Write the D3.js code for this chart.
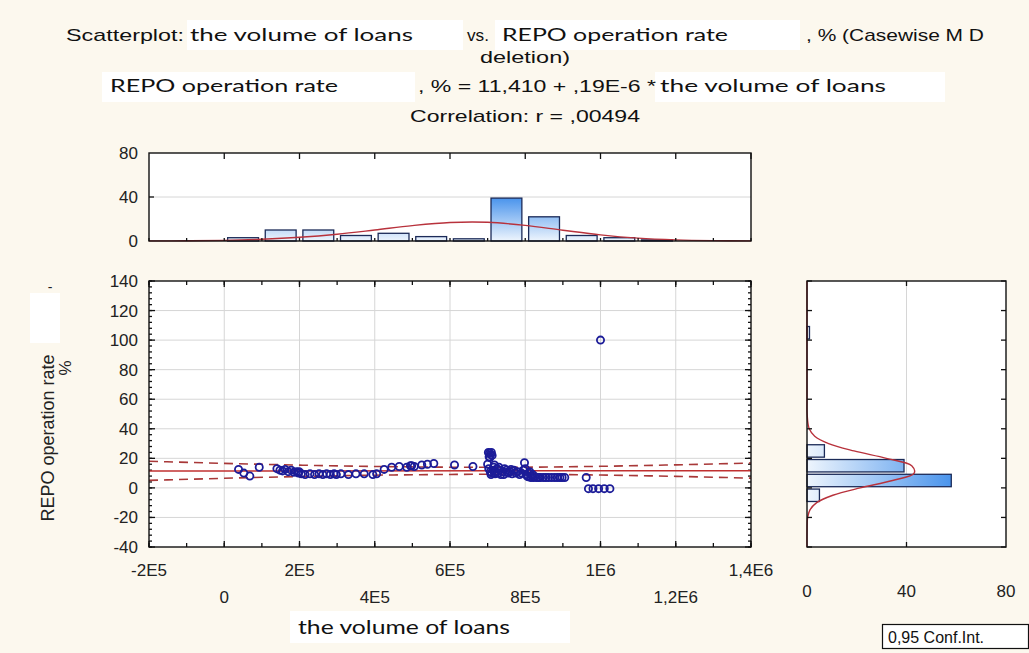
<!DOCTYPE html>
<html>
<head>
<meta charset="utf-8">
<script src="https://cdn.jsdelivr.net/npm/d3@7"></script>
<style>
  html, body { margin: 0; padding: 0; background: #fcf8ee; }
  svg { display: block; }
</style>
</head>
<body>
<div id="chart"></div>
<script>
// Scatterplot with marginal histograms: volume of loans vs REPO rate

// scatter points (volume of loans, REPO operation rate %)
const loanVolume = [
  38000, 52000, 68000, 93000,
  140000, 148000, 155000, 162000, 170000, 178000, 185000, 192000, 197000, 199000,
  205000, 215000, 228000, 240000, 252000, 262000, 272000, 282000, 292000, 298000,
  310000, 330000, 350000, 372000, 395000,
  405000, 425000, 445000, 465000, 485000, 495000, 498000,
  505000, 525000, 540000, 557000,
  612000, 661000,
  702000, 705000, 708000, 704000, 710000, 706000, 712000,
  700000, 703000, 707000, 709000, 711000, 714000, 716000, 718000, 720000, 722000,
  725000, 728000, 732000, 735000, 740000, 745000, 750000, 755000, 760000, 765000,
  770000, 775000, 780000, 785000, 790000, 795000, 798000, 743000, 752000, 762000,
  730000, 718000,
  800000, 802000, 805000, 808000, 812000, 815000, 818000, 822000, 826000, 830000,
  835000, 840000, 848000, 855000, 862000, 870000, 878000, 885000, 892000, 898000,
  810000, 820000,
  905000, 962000, 968000, 980000, 995000,
  1000000, 1010000, 1025000
];
const repoRate = [
  12.5, 10, 8, 14,
  13, 12, 11.5, 12.5, 11, 12, 10.5, 11, 10, 11,
  9.5, 9, 9.5, 9, 9.5, 9, 9.5, 9, 9.5, 9,
  9.5, 9, 9.5, 9.5, 9,
  9.5, 12.5, 14, 14.5, 14, 15, 15,
  14.5, 15.5, 16, 16.5,
  15.5, 14.5,
  24, 23.5, 22.5, 21, 24, 20.5, 22,
  16, 13, 11, 9, 10, 12, 14, 10, 9.5, 11,
  13, 10, 12, 9, 11, 13, 12, 10, 11, 9.5,
  12, 10, 11, 9, 10, 12, 17, 9, 10.5, 12.5,
  14, 15.5,
  13, 9, 8, 7.5, 11, 7, 8, 7, 7.5, 7,
  7, 7, 7, 7, 7, 7, 7, 7, 7, 7,
  10, 9,
  7, 7, -0.5, -0.5, -0.5,
  100, -0.5, -0.5
];

// regression line from the title: rate = 11,410 + ,19E-6 * volume
const regIntercept = 11.410;
const regSlope = 0.19e-6;

// 0,95 confidence band
const bandX = [-200000, 0, 200000, 400000, 600000, 800000, 1000000, 1200000, 1400000];
const bandUpper = [18.0, 16.6, 15.4, 14.5, 14.0, 14.0, 14.6, 15.6, 16.8];
const bandLower = [5.1, 6.5, 7.7, 8.6, 9.1, 9.2, 8.7, 7.8, 6.6];

// top histogram (volume of loans), bins of 1E5
const volBinStart = [0, 100000, 200000, 300000, 400000, 500000, 600000, 700000, 800000, 900000, 1000000, 1100000];
const volCounts = [3, 10, 10, 5, 7, 4, 2, 39, 22, 5, 3, 1];
const volCurveX = [-200000, -100000, 0, 100000, 200000, 300000, 400000, 500000, 600000, 700000, 800000, 900000, 1000000, 1100000, 1200000, 1300000, 1400000];
const volCurveN = [0.1, 0.2, 0.6, 1.6, 3.4, 6.2, 10, 14, 16.8, 17, 14.2, 9.8, 5.6, 2.6, 1, 0.3, 0.1];

// right histogram (REPO rate), bins of 10
const rateBinStart = [-10, 0, 10, 20, 100];
const rateCounts = [5, 58, 39, 7, 1];
const rateCurveY = [-40, -30, -20, -15, -10, -5, 0, 5, 10, 15, 20, 25, 30, 35, 40, 50, 60, 140];
const rateCurveN = [0, 0.01, 0.26, 1.15, 3.9, 10.4, 21.4, 34.4, 43.1, 42.1, 31.9, 18.9, 8.7, 3.1, 0.9, 0.05, 0, 0];

// ticks
const xTicks = [-200000, 0, 200000, 400000, 600000, 800000, 1000000, 1200000, 1400000];
const xTickLabels = ["-2E5", "0", "2E5", "4E5", "6E5", "8E5", "1E6", "1,2E6", "1,4E6"];
const yTicks = [140, 120, 100, 80, 60, 40, 20, 0, -20, -40];
const topHistTicks = [0, 40, 80];
const rightHistTicks = [0, 40, 80];

const W = 1029, H = 653;
const tickFont = "'Liberation Sans', Arial, sans-serif";
const boxFont = "Lato, 'Open Sans', sans-serif";
const narrowFont = "'Liberation Sans Narrow', 'Liberation Sans', Arial, sans-serif";

const svg = d3.select("#chart").append("svg")
  .attr("width", W).attr("height", H);

svg.append("rect").attr("width", W).attr("height", H).attr("fill", "#fcf8ee");

// panel boxes
const main = { left: 149, right: 751, top: 281, bottom: 547 };
const topP = { left: 149, right: 751, top: 153, bottom: 241 };
const rightP = { left: 807, right: 1006, top: 281, bottom: 547 };

const x = d3.scaleLinear().domain([-200000, 1400000]).range([main.left, main.right]);
const y = d3.scaleLinear().domain([-40, 140]).range([main.bottom, main.top]);
const yTop = d3.scaleLinear().domain([0, 80]).range([topP.bottom, topP.top]);
const xRight = d3.scaleLinear().domain([0, 80]).range([rightP.left, rightP.right]);

// gradients for histogram bars
const defs = svg.append("defs");
const gv = defs.append("linearGradient").attr("id", "gradV")
  .attr("gradientUnits", "userSpaceOnUse")
  .attr("x1", 0).attr("x2", 0)
  .attr("y1", yTop(0)).attr("y2", yTop(d3.max(volCounts)));
gv.append("stop").attr("offset", "0%").attr("stop-color", "#eef5fd");
gv.append("stop").attr("offset", "100%").attr("stop-color", "#4a94ec");
const gh = defs.append("linearGradient").attr("id", "gradH")
  .attr("gradientUnits", "userSpaceOnUse")
  .attr("y1", 0).attr("y2", 0)
  .attr("x1", xRight(0)).attr("x2", xRight(d3.max(rateCounts)));
gh.append("stop").attr("offset", "0%").attr("stop-color", "#eef5fd");
gh.append("stop").attr("offset", "100%").attr("stop-color", "#4a94ec");

function panel(p) {
  svg.append("rect")
    .attr("x", p.left).attr("y", p.top)
    .attr("width", p.right - p.left).attr("height", p.bottom - p.top)
    .attr("fill", "#fff");
}
function frame(p) {
  svg.append("rect")
    .attr("x", p.left).attr("y", p.top)
    .attr("width", p.right - p.left).attr("height", p.bottom - p.top)
    .attr("fill", "none").attr("stroke", "#111").attr("stroke-width", 1.4);
}
// inward ticks on a horizontal edge
function hTicks(vals, scale, yEdge, dir, len) {
  svg.append("g").selectAll("line").data(vals).join("line")
    .attr("x1", d => scale(d)).attr("x2", d => scale(d))
    .attr("y1", yEdge).attr("y2", yEdge + dir * len)
    .attr("stroke", "#111").attr("stroke-width", 1.3);
}
function vTicks(vals, scale, xEdge, dir, len) {
  svg.append("g").selectAll("line").data(vals).join("line")
    .attr("y1", d => scale(d)).attr("y2", d => scale(d))
    .attr("x1", xEdge).attr("x2", xEdge + dir * len)
    .attr("stroke", "#111").attr("stroke-width", 1.3);
}

// ---------- main scatter ----------
panel(main);
const grid = svg.append("g").attr("stroke", "#d6d6d6").attr("stroke-width", 1);
grid.selectAll(".gx").data(xTicks.slice(1, -1)).join("line")
  .attr("x1", d => x(d)).attr("x2", d => x(d))
  .attr("y1", main.top).attr("y2", main.bottom);
grid.selectAll(".gy").data(yTicks.slice(1, -1)).join("line")
  .attr("y1", d => y(d)).attr("y2", d => y(d))
  .attr("x1", main.left).attr("x2", main.right);

const minorY = d3.range(-40, 141, 4);
const minorX = d3.range(-200000, 1400001, 100000);
vTicks(minorY, y, main.left, 1, 3);
vTicks(yTicks, y, main.left, 1, 6);
vTicks(minorY, y, main.right, -1, 3);
vTicks(yTicks, y, main.right, -1, 6);
hTicks(minorX, x, main.top, 1, 4);
hTicks(xTicks, x, main.top, 1, 6);
hTicks(minorX, x, main.bottom, -1, 4);
hTicks(xTicks, x, main.bottom, -1, 6);

// regression line and confidence band
svg.append("line")
  .attr("x1", x(-200000)).attr("x2", x(1400000))
  .attr("y1", y(regIntercept + regSlope * -200000))
  .attr("y2", y(regIntercept + regSlope * 1400000))
  .attr("stroke", "#c03030").attr("stroke-width", 1.5);

const bandLine = d3.line().curve(d3.curveNatural);
[bandUpper, bandLower].forEach(arr => {
  svg.append("path")
    .attr("d", bandLine(bandX.map((v, i) => [x(v), y(arr[i])])))
    .attr("fill", "none").attr("stroke", "#a83838")
    .attr("stroke-width", 1.6).attr("stroke-dasharray", "9,6");
});

// points
svg.append("g").selectAll("circle").data(loanVolume).join("circle")
  .attr("cx", d => x(d))
  .attr("cy", (d, i) => y(repoRate[i]))
  .attr("r", 3.6)
  .attr("fill", "none")
  .attr("stroke", "#1c1c98")
  .attr("stroke-width", 1.8);

frame(main);

// y tick labels
svg.append("g").selectAll("text").data(yTicks).join("text")
  .attr("x", 138).attr("y", d => y(d) + 6)
  .attr("text-anchor", "end")
  .style("font-family", tickFont).style("font-size", "17px").style("fill", "#222")
  .text(d => d);

// x tick labels, staggered on two rows
svg.append("g").selectAll("text").data(xTicks).join("text")
  .attr("x", d => x(d))
  .attr("y", (d, i) => i % 2 === 0 ? 576 : 603)
  .attr("text-anchor", "middle")
  .style("font-family", tickFont).style("font-size", "17px").style("fill", "#222")
  .text((d, i) => xTickLabels[i]);

// ---------- top histogram ----------
panel(topP);
svg.append("line")
  .attr("x1", topP.left).attr("x2", topP.right)
  .attr("y1", yTop(40)).attr("y2", yTop(40))
  .attr("stroke", "#d6d6d6");

svg.append("g").selectAll("rect").data(volBinStart).join("rect")
  .attr("x", d => x(d + 9000))
  .attr("width", d => x(d + 91000) - x(d + 9000))
  .attr("y", (d, i) => yTop(volCounts[i]))
  .attr("height", (d, i) => yTop(0) - yTop(volCounts[i]))
  .attr("fill", "url(#gradV)")
  .attr("stroke", "#1c2b58").attr("stroke-width", 1.3);

svg.append("path")
  .attr("d", d3.line().curve(d3.curveCatmullRom)(volCurveX.map((v, i) => [x(v), yTop(volCurveN[i])])))
  .attr("fill", "none").attr("stroke", "#b8323c").attr("stroke-width", 1.4);

hTicks(xTicks.slice(1), x, topP.top, 1, 6);
hTicks(minorX, x, topP.bottom, -1, 3);
vTicks([40], yTop, topP.left, 1, 5);
frame(topP);

svg.append("g").selectAll("text").data(topHistTicks).join("text")
  .attr("x", 138).attr("y", d => yTop(d) + 6)
  .attr("text-anchor", "end")
  .style("font-family", tickFont).style("font-size", "17px").style("fill", "#222")
  .text(d => d);

// ---------- right histogram ----------
panel(rightP);
svg.append("line")
  .attr("x1", xRight(40)).attr("x2", xRight(40))
  .attr("y1", rightP.top).attr("y2", rightP.bottom)
  .attr("stroke", "#d6d6d6");

svg.append("g").selectAll("rect").data(rateBinStart).join("rect")
  .attr("y", d => y(d + 9.2))
  .attr("height", d => y(d + 0.8) - y(d + 9.2))
  .attr("x", xRight(0))
  .attr("width", (d, i) => xRight(rateCounts[i]) - xRight(0))
  .attr("fill", "url(#gradH)")
  .attr("stroke", "#1c2b58").attr("stroke-width", 1.3);

svg.append("path")
  .attr("d", d3.line().curve(d3.curveCatmullRom)(rateCurveY.map((v, i) => [xRight(rateCurveN[i]), y(v)])))
  .attr("fill", "none").attr("stroke", "#b8323c").attr("stroke-width", 1.4);

vTicks(yTicks, y, rightP.left, 1, 5);
vTicks(yTicks, y, rightP.right, -1, 5);
hTicks([40], xRight, rightP.top, 1, 5);
hTicks([40], xRight, rightP.bottom, -1, 5);
frame(rightP);

svg.append("g").selectAll("text").data(rightHistTicks).join("text")
  .attr("x", d => xRight(d)).attr("y", 597)
  .attr("text-anchor", "middle")
  .style("font-family", tickFont).style("font-size", "17px").style("fill", "#222")
  .text(d => d);

// ---------- titles ----------
function whiteBox(x0, y0, w, h) {
  svg.append("rect").attr("x", x0).attr("y", y0).attr("width", w).attr("height", h).attr("fill", "#fff");
}
function label(txt, x0, yb, len, font, size) {
  svg.append("text")
    .attr("x", x0).attr("y", yb)
    .attr("textLength", len).attr("lengthAdjust", "spacingAndGlyphs")
    .style("font-family", font).style("font-size", size + "px").style("fill", "#111")
    .text(txt);
}

whiteBox(187, 20, 276, 30);
whiteBox(495, 20, 305, 30);
whiteBox(102, 72, 313, 30);
whiteBox(655, 72, 290, 30);
whiteBox(290, 611, 280, 32);
whiteBox(30, 293, 30, 50);

label("Scatterplot:", 66, 41, 118, narrowFont, 17);
label("the volume of loans", 190, 41, 223, boxFont, 18);
label("vs.", 467, 41, 22, narrowFont, 17);
label("REPO operation rate", 502, 41, 226, boxFont, 18);
label(", % (Casewise M D", 806, 41, 178, narrowFont, 17);
label("deletion)", 480, 63, 90, narrowFont, 17);
label("REPO operation rate", 110, 92, 228, boxFont, 18);
label(", % = 11,410 + ,19E-6 *", 418, 92, 238, narrowFont, 17);
label("the volume of loans", 660, 92, 226, boxFont, 18);
label("Correlation: r = ,00494", 410, 122, 230, narrowFont, 17);

// axis titles
label("the volume of loans", 298, 634, 212, boxFont, 19);

svg.append("text")
  .attr("transform", "translate(54,438) rotate(-90)")
  .attr("text-anchor", "middle")
  .style("font-family", tickFont).style("font-size", "18px").style("fill", "#222")
  .text("REPO operation rate");
svg.append("text")
  .attr("transform", "translate(71,368) rotate(-90)")
  .attr("text-anchor", "middle")
  .style("font-family", tickFont).style("font-size", "17px").style("fill", "#222")
  .text("%");
svg.append("text")
  .attr("x", 50).attr("y", 292)
  .attr("text-anchor", "middle")
  .style("font-family", tickFont).style("font-size", "14px").style("fill", "#222")
  .text("-");

// confidence legend box
svg.append("rect")
  .attr("x", 882.5).attr("y", 624.5).attr("width", 146).attr("height", 24)
  .attr("fill", "#fff").attr("stroke", "#111").attr("stroke-width", 1.2);
svg.append("text")
  .attr("x", 888).attr("y", 643)
  .style("font-family", tickFont).style("font-size", "16px").style("fill", "#111")
  .text("0,95 Conf.Int.");
</script>
</body>
</html>
